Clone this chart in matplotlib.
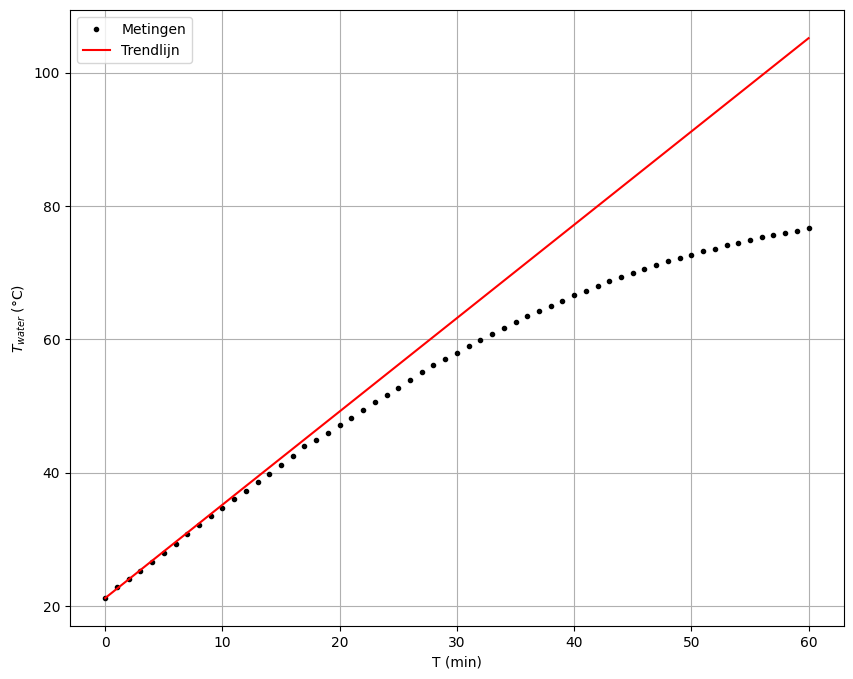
import matplotlib
matplotlib.use("Agg")
import matplotlib.pyplot as plt
import numpy as np

t = list(range(0, 61))
temp = [21.2, 22.8, 24.0, 25.3, 26.6, 28.0, 29.3, 30.8, 32.2, 33.5,
        34.7, 36.0, 37.3, 38.6, 39.8, 41.1, 42.5, 44.0, 44.9, 46.0,
        47.1, 48.2, 49.4, 50.6, 51.6, 52.7, 53.9, 55.1, 56.1, 57.1,
        58.0, 59.0, 59.9, 60.8, 61.7, 62.6, 63.5, 64.3, 65.0, 65.8,
        66.6, 67.3, 68.0, 68.7, 69.3, 70.0, 70.6, 71.2, 71.7, 72.2,
        72.7, 73.2, 73.6, 74.1, 74.5, 74.9, 75.3, 75.6, 76.0, 76.2, 76.7]
trend_start = 21.2
trend_slope = 1.40

fig, ax = plt.subplots(figsize=(8.54, 6.79), dpi=100)
ax.plot(t, temp, 'k.', label='Metingen')
tt = np.array([0, 60])
ax.plot(tt, trend_start + trend_slope * tt, 'r-', label='Trendlijn')
ax.set_xlabel('T (min)')
ax.set_ylabel(r'$T_{water}$ (°C)')
ax.grid(True)
ax.legend(loc='upper left')
fig.subplots_adjust(left=0.082, right=0.988, top=0.985, bottom=0.078)
fig.savefig('out.png')
